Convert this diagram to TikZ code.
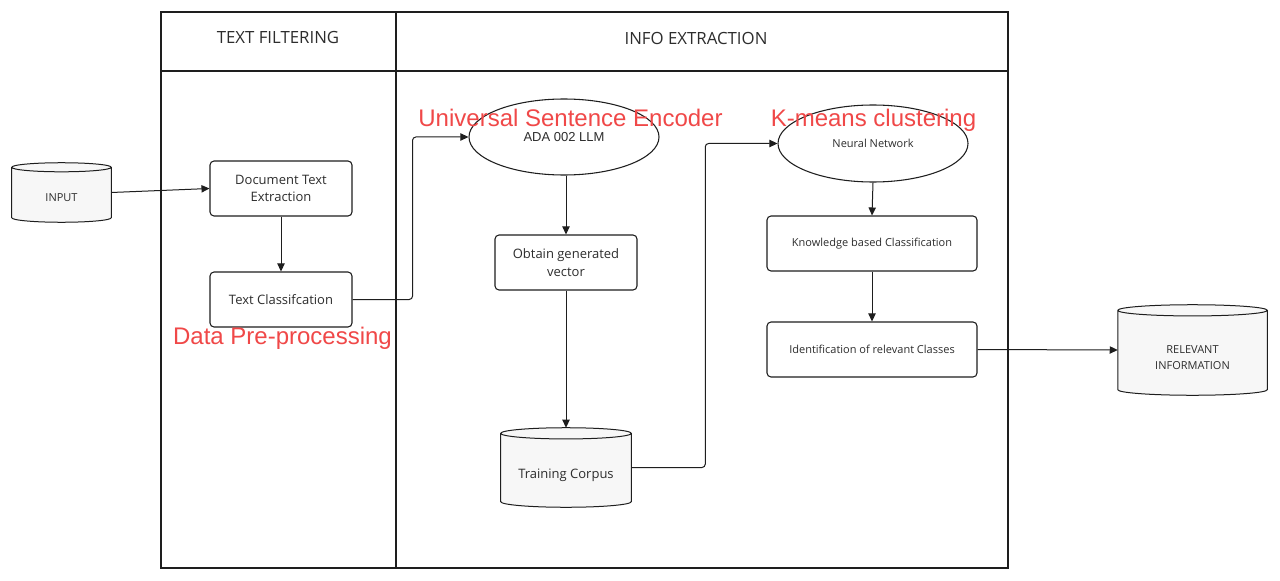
\documentclass[tikz,border=0pt]{standalone}
\usepackage{fontspec}
\setmainfont{Open Sans}
\newfontfamily\arialf{Liberation Sans}
\usetikzlibrary{arrows.meta,calc,shapes.geometric,backgrounds}
\definecolor{redlab}{RGB}{240,72,72}
\definecolor{txt}{RGB}{45,45,45}
\definecolor{cylfill}{RGB}{247,247,247}
\definecolor{ln}{RGB}{30,30,30}
\newcommand{\px}[1]{#1*0.75pt}
\newcommand{\lowr}[2]{\raisebox{-#1}[\height][\depth]{\begin{tabular}{@{}c@{}}#2\end{tabular}}}
\newcommand{\cylinderdraw}[2]{%
 \draw[cyl] let \p1=(#1.north west), \p2=(#1.south east), \n1={(\x2-\x1)/2} in
 (\x1,{\y1-#2}) -- (\x1,{\y2+#2}) arc[start angle=180,end angle=360,x radius=\n1,y radius=#2]
 -- (\x2,{\y1-#2}) arc[start angle=0,end angle=180,x radius=\n1,y radius=#2] -- cycle
 (\x1,{\y1-#2}) arc[start angle=180,end angle=360,x radius=\n1,y radius=#2];}
\begin{document}
\begin{tikzpicture}[x=0.75pt,y=-0.75pt,
 box/.style={draw=ln, line width=0.8pt, rounded corners=3pt, text=txt, align=center, inner sep=0pt,
   font=\fontsize{9.75}{13}\selectfont},
 smallbox/.style={box, font=\fontsize{8.25}{11}\selectfont},
 ell/.style={ellipse, draw=ln, line width=0.8pt, inner sep=0pt, text=txt},
 cylnode/.style={draw=none, inner sep=0pt, text=txt, align=center},
 cyl/.style={draw=ln, line width=0.75pt, fill=cylfill},
 frame/.style={draw=ln, line width=1.1pt},
 head/.style={text=txt, font=\fontsize{12.6}{15}\selectfont},
 redl/.style={text=redlab, font=\arialf\fontsize{18}{20}\selectfont, anchor=base, inner sep=0pt},
 arr/.style={draw=ln, line width=0.75pt, -{Triangle[length=6pt,width=5.5pt]}}]
\useasboundingbox (0,0) rectangle (1280,581);

% frame
\draw[frame] (161,12) rectangle (1008,568);
\draw[frame] (161,71) -- (1008,71);
\draw[frame] (396,12) -- (396,568);
\node[head] (h1) at (278,38) {TEXT FILTERING};
\node[head] (h2) at (696,38) {INFO EXTRACTION};

% cylinders (nodes)
\node[cylnode, minimum width=\px{99}, minimum height=\px{59}, font=\fontsize{8.25}{11}\selectfont] (input) at (61.5,192.5) {\lowr{4.5pt}{INPUT}};
\node[cylnode, minimum width=\px{130}, minimum height=\px{79}, font=\fontsize{9.75}{13}\selectfont] (corp) at (566,467.5) {\lowr{5.5pt}{Training Corpus}};
\node[cylnode, minimum width=\px{149}, minimum height=\px{90}, font=\fontsize{8.25}{12}\selectfont] (rel) at (1192.5,350) {\lowr{6pt}{RELEVANT\\INFORMATION}};
\begin{scope}[on background layer]
\fill[white] (0,0) rectangle (1280,581);
\cylinderdraw{input}{3.4pt}
\cylinderdraw{corp}{4.2pt}
\cylinderdraw{rel}{4.2pt}
\end{scope}

% boxes
\node[box, minimum width=\px{142}, minimum height=\px{55}] (doc) at (281,188.5) {Document Text\\Extraction};
\node[box, minimum width=\px{142}, minimum height=\px{55}] (tcl) at (281,299.5) {Text Classifcation};
\node[box, minimum width=\px{142}, minimum height=\px{55}] (obt) at (566,262.5) {Obtain generated\\vector};
\node[smallbox, minimum width=\px{210}, minimum height=\px{55}] (know) at (872,243.5) {Knowledge based Classification};
\node[smallbox, minimum width=\px{210}, minimum height=\px{55}] (ident) at (872,349.5) {Identification of relevant Classes};

% ellipses
\node[ell, minimum width=\px{190}, minimum height=\px{76}, font=\arialf\fontsize{9.75}{12}\selectfont] (ada) at (564,137) {ADA 002 LLM};
\node[ell, minimum width=\px{190}, minimum height=\px{77}, font=\fontsize{8.25}{11}\selectfont] (nn) at (873,143.5) {Neural Network};

% red labels
\node[redl] (use) at (570.5,126.5) {Universal Sentence Encoder};
\node[redl] (km) at (873.5,126.5) {K-means clustering};
\node[redl] (dpp) at (282.5,344) {Data Pre-processing};

% connectors
\draw[arr] (input.east) -- (doc.west);
\draw[arr] (doc.south) -- (tcl.north);
\draw[arr, rounded corners=2.5pt] (tcl.east) -- ++(60,0) |- (ada.west);
\draw[arr] (ada.south -| obt.north) -- (obt.north);
\draw[arr] (obt.south) -- (corp.north);
\draw[arr, rounded corners=2.5pt] (corp.east) -- ++(74,0) |- (nn.west);
\draw[arr] (nn.south) -- (know.north);
\draw[arr] (know.south) -- (ident.north);
\draw[arr] (ident.east) -- (rel.west);
\end{tikzpicture}
\end{document}
